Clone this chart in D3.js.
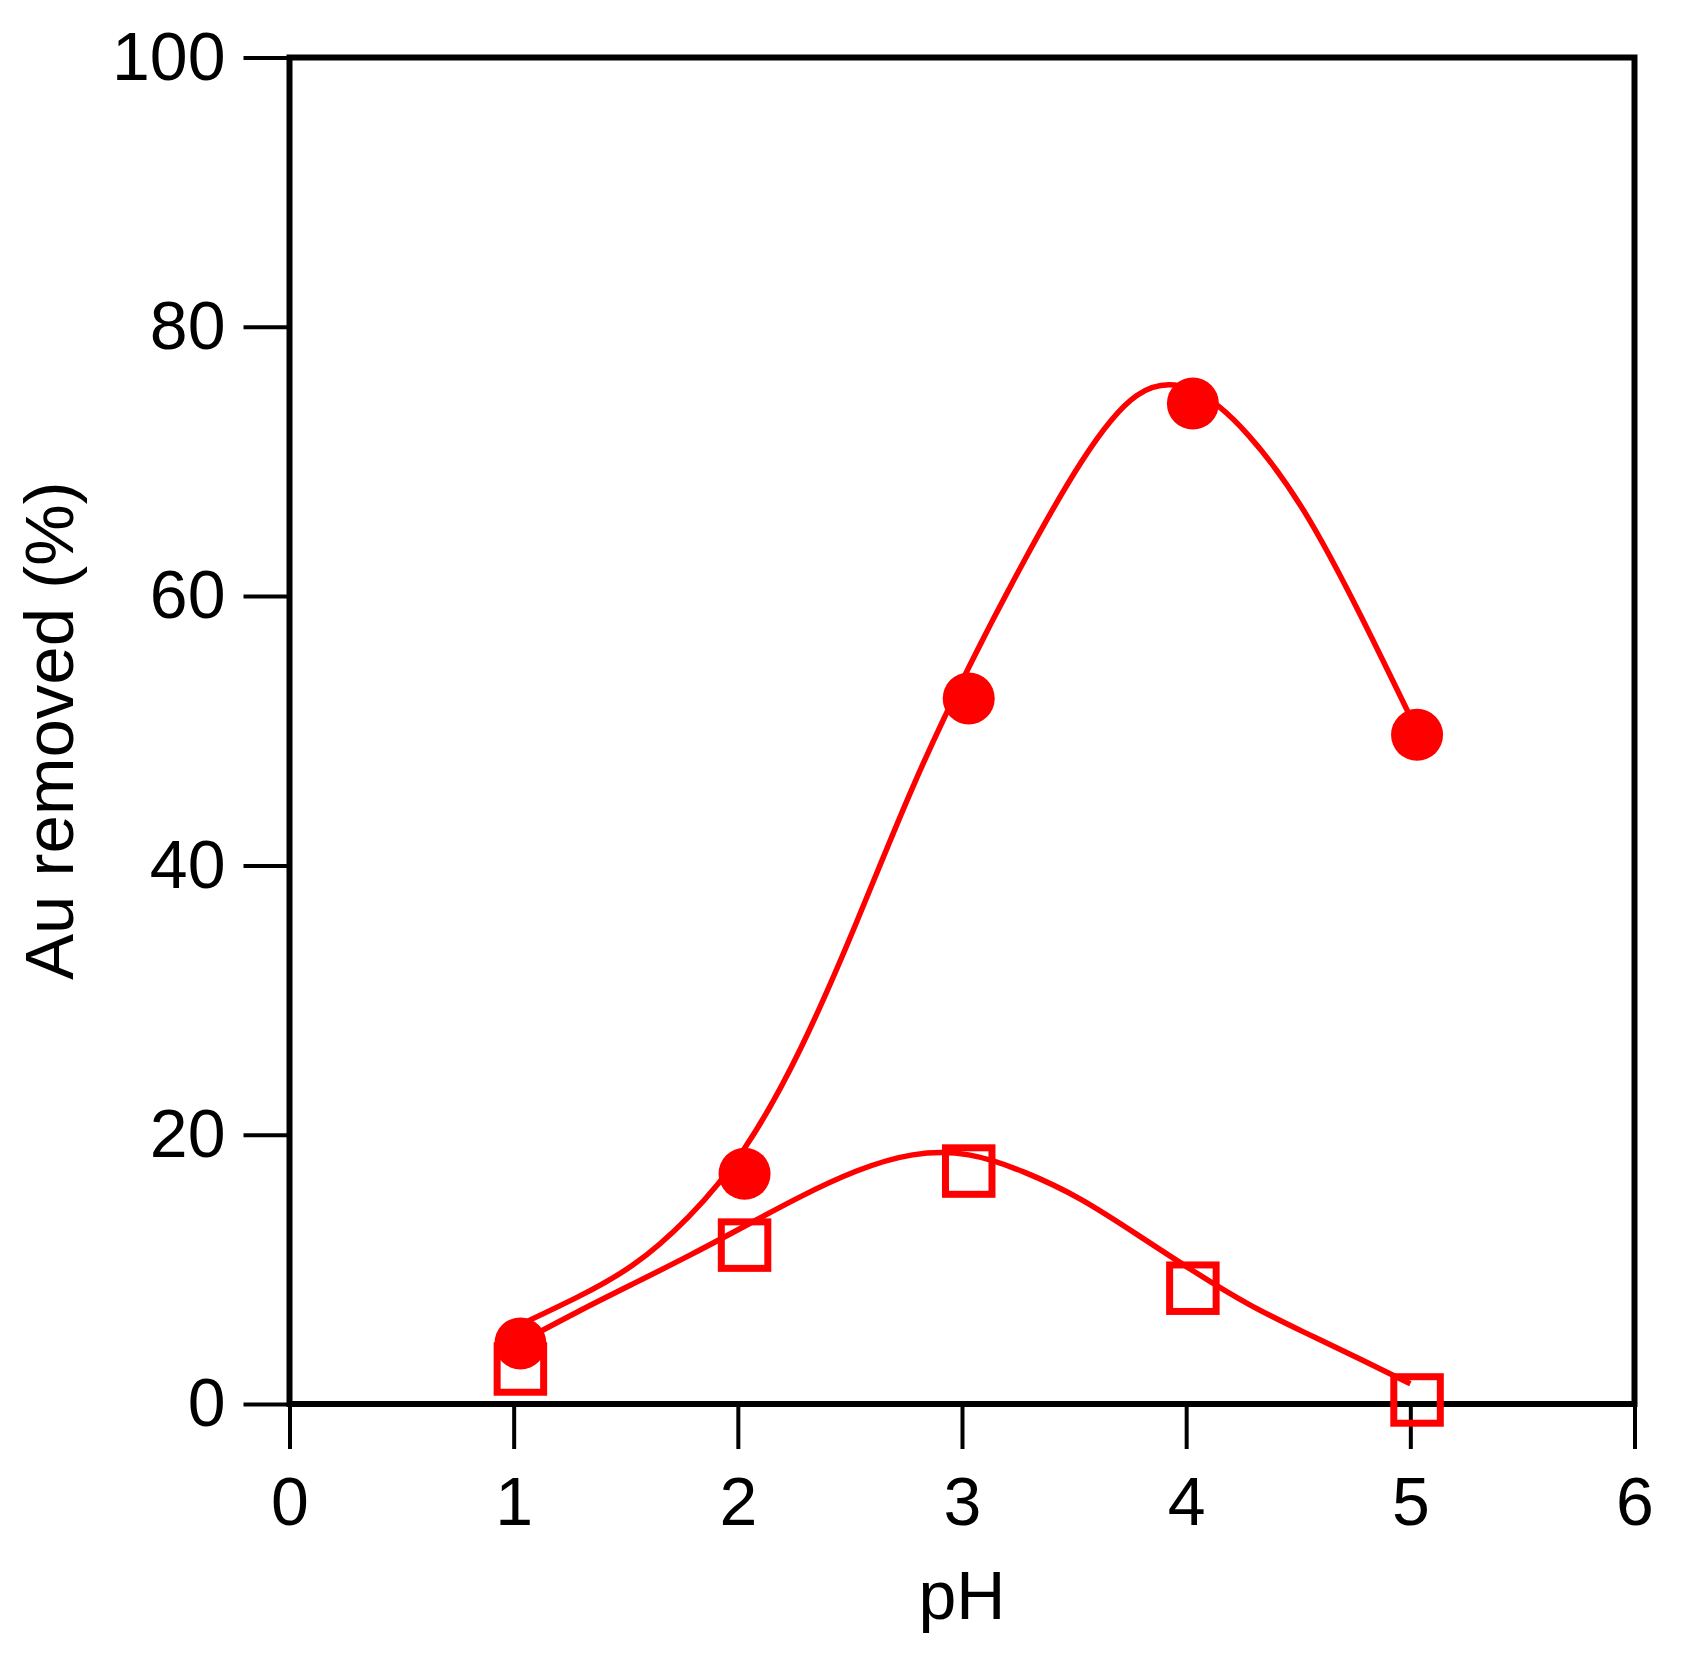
<!DOCTYPE html>
<html>
<head>
<meta charset="utf-8">
<script src="https://cdn.jsdelivr.net/npm/d3@7"></script>
<style>
  body { margin: 0; background: #fff; }
  svg text { font-family: "Liberation Sans", Arial, sans-serif; fill: #000; }
</style>
</head>
<body>
<svg id="chart" width="1689" height="1659"></svg>
<script>
// measured points
var phFilled = [1.03, 2.03, 3.03, 4.03, 5.03];
var auFilled = [4.5, 17.1, 52.4, 74.3, 49.7];
var phOpen = [1.03, 2.03, 3.03, 4.03, 5.03];
var auOpen = [2.6, 11.8, 17.3, 8.6, 0.3];

// fitted curves
var fitFilledX = [1.03, 1.28, 1.53, 1.78, 2.03, 2.28, 2.53, 2.78, 3.03, 3.28, 3.53, 3.78, 4.03, 4.28, 4.53, 4.78, 5.03];
var fitFilledY = [5.9, 7.9, 10.3, 13.9, 19.0, 26.4, 35.8, 45.8, 54.7, 62.7, 69.9, 74.9, 75.3, 71.9, 66.2, 58.5, 50.0];
var fitOpenX = [1.03, 1.28, 1.53, 1.78, 2.03, 2.28, 2.53, 2.78, 3.03, 3.28, 3.53, 3.78, 4.03, 4.28, 4.53, 4.78, 5.0];
var fitOpenY = [4.6, 6.8, 8.9, 11.0, 13.2, 15.4, 17.3, 18.5, 18.5, 17.2, 15.2, 12.6, 9.9, 7.4, 5.3, 3.3, 1.5];

var xTicks = [0, 1, 2, 3, 4, 5, 6];
var yTicks = [0, 20, 40, 60, 80, 100];

var svg = d3.select("#chart");
var plotLeft = 289.5, plotRight = 1634.5, plotTop = 57.5, plotBottom = 1404;
var red = "#ff0000";

var x = d3.scaleLinear().domain([0, 6]).range([plotLeft, plotRight]);
var y = d3.scaleLinear().domain([0, 100]).range([plotBottom, plotTop]);

var xAxis = d3.axisBottom(x).tickValues(xTicks).tickSize(45).tickPadding(27.7).tickFormat(d3.format("d"));
var yAxis = d3.axisLeft(y).tickValues(yTicks).tickSize(46).tickPadding(18).tickFormat(d3.format("d"));

var gx = svg.append("g").attr("transform", "translate(0," + plotBottom + ")").call(xAxis);
var gy = svg.append("g").attr("transform", "translate(" + plotLeft + ",0)").call(yAxis);

[gx, gy].forEach(function(g){
  g.select(".domain").remove();
  g.selectAll(".tick line").attr("stroke", "#000").attr("stroke-width", 4);
  g.selectAll(".tick text").style("font-size", "68px").attr("fill", "#000");
});

// frame
svg.append("rect")
  .attr("x", plotLeft).attr("y", plotTop)
  .attr("width", plotRight - plotLeft).attr("height", plotBottom - plotTop)
  .attr("fill", "none").attr("stroke", "#000").attr("stroke-width", 6);

svg.append("text")
  .attr("x", (plotLeft + plotRight) / 2).attr("y", 1619)
  .attr("text-anchor", "middle")
  .style("font-size", "68px")
  .text("pH");

svg.append("text")
  .attr("transform", "translate(73," + ((plotTop + plotBottom) / 2) + ") rotate(-90)")
  .attr("text-anchor", "middle")
  .style("font-size", "69px")
  .text("Au removed (%)");

var line = d3.line()
  .x(function(d){ return x(d[0]); })
  .y(function(d){ return y(d[1]); })
  .curve(d3.curveNatural);

var fitFilled = d3.zip(fitFilledX, fitFilledY);
var fitOpen = d3.zip(fitOpenX, fitOpenY);

// open squares
var sq = 46.5;
svg.selectAll(".sq").data(d3.zip(phOpen, auOpen)).enter().append("rect")
  .attr("class", "sq")
  .attr("x", function(d){ return x(d[0]) - sq / 2; })
  .attr("y", function(d){ return y(d[1]) - sq / 2; })
  .attr("width", sq).attr("height", sq)
  .attr("fill", "none").attr("stroke", red).attr("stroke-width", 7);

[fitFilled, fitOpen].forEach(function(pts){
  svg.append("path")
    .attr("d", line(pts))
    .attr("fill", "none").attr("stroke", red).attr("stroke-width", 5.5);
});

svg.selectAll(".dot").data(d3.zip(phFilled, auFilled)).enter().append("circle")
  .attr("class", "dot")
  .attr("cx", function(d){ return x(d[0]); })
  .attr("cy", function(d){ return y(d[1]); })
  .attr("r", 26)
  .attr("fill", red);
</script>
</body>
</html>
